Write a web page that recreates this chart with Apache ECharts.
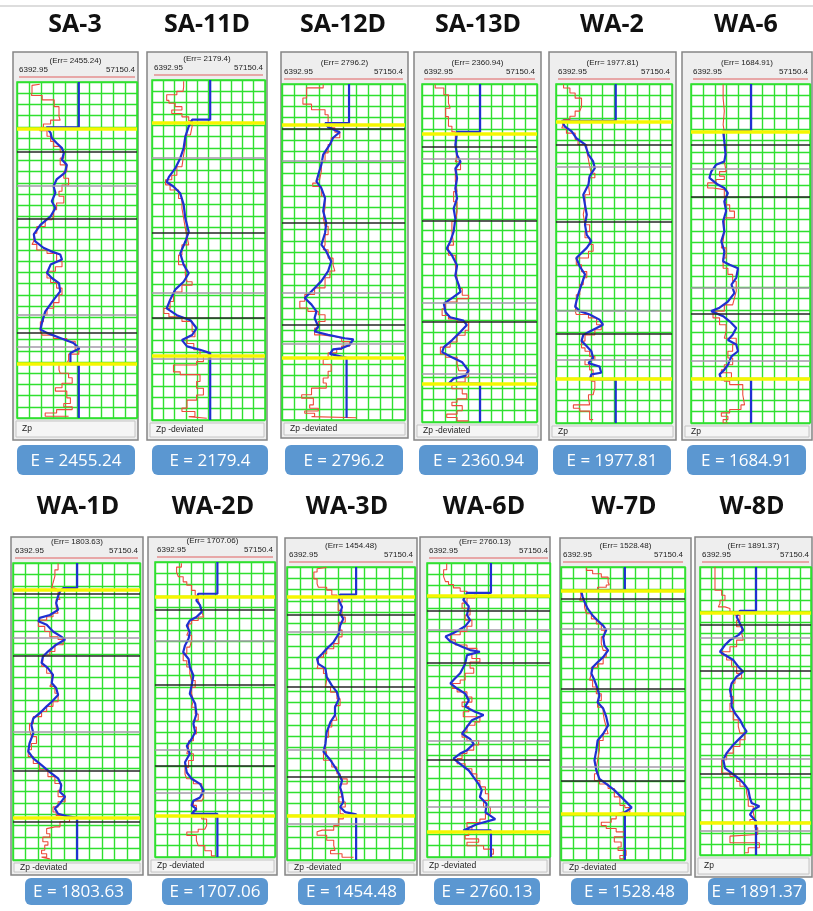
<!DOCTYPE html>
<html>
<head>
<meta charset="utf-8">
<script src="https://cdn.jsdelivr.net/npm/echarts@6/dist/echarts.min.js"></script>
<style>
  html, body { margin: 0; padding: 0; background: #fff; }
  #chart { width: 813px; height: 911px; }
</style>
</head>
<body>
<div id="chart"></div>
<script>
// well names, error values and footer labels
const wells = ['SA-3', 'SA-11D', 'SA-12D', 'SA-13D', 'WA-2', 'WA-6',
  'WA-1D', 'WA-2D', 'WA-3D', 'WA-6D', 'W-7D', 'W-8D'];
const errValues = [2455.24, 2179.4, 2796.2, 2360.94, 1977.81, 1684.91,
  1803.63, 1707.06, 1454.48, 2760.13, 1528.48, 1891.37];
const footLabels = ['Zp', 'Zp -deviated', 'Zp -deviated', 'Zp -deviated', 'Zp', 'Zp',
  'Zp -deviated', 'Zp -deviated', 'Zp -deviated', 'Zp -deviated', 'Zp -deviated', 'Zp'];
const zpLow = '6392.95';
const zpHigh = '57150.4';

// log curves: [zp (grid column units 0-10), depth (grid rows)]
const redSA3 = [[1.9,0.2],[1.25,0.3],[1.2,1.0],[2.1,1.2],[3.1,1.6],[3.5,2.2],[3.6,3.1],[2.8,3.4],[2.2,3.75],[1.9,4.1],[2.5,4.35],[2.8,4.85],[3.05,5.3],[3.6,5.75],[3.9,6.25],[3.6,6.8],[4.15,7.4],[3.9,8.0],[4.3,8.6],[3.75,9.2],[3.5,9.75],[3.9,10.2],[3.3,10.8],[3.05,11.4],[2.9,12.0],[2.35,12.3],[1.65,12.9],[1.4,13.5],[1.25,14.2],[1.65,14.5],[2.5,15.0],[3.3,15.3],[3.75,16.0],[3.2,16.5],[2.5,16.9],[2.8,17.5],[3.3,17.9],[3.75,18.4],[3.5,19.0],[3.05,19.7],[2.5,20.2],[2.2,20.8],[1.95,21.4],[2.1,22.3],[3.05,22.6],[4.15,22.9],[4.85,23.15],[5.15,23.9],[4.3,24.3],[4.15,24.8],[3.5,25.2],[3.6,25.7],[4.3,26.0],[4.6,26.4],[3.75,26.9],[3.2,27.3],[4.15,27.6],[4.45,28.2],[3.9,28.7],[4.6,29.0],[3.3,29.25],[2.35,29.55],[2.35,29.85],[4.3,29.85]];
const blueSA3 = [[5.15,0],[5.15,4.05],[2.45,4.05],[2.8,4.55],[2.9,5.0],[3.3,5.45],[3.75,5.9],[3.9,6.35],[3.75,6.95],[4.15,7.4],[4.0,8.1],[3.3,8.7],[3.05,9.3],[3.2,9.9],[2.9,10.65],[3.2,11.25],[2.8,12.0],[1.95,12.75],[1.4,13.6],[1.5,14.2],[2.2,14.8],[2.8,15.1],[3.6,15.4],[3.75,15.85],[2.8,16.3],[2.5,17.05],[2.9,17.5],[3.5,17.95],[3.6,18.7],[3.05,19.45],[2.35,20.5],[2.1,21.4],[1.95,22.1],[2.5,22.4],[3.6,22.85],[4.7,23.3],[5.2,23.8],[4.45,24.2],[4.45,25.2],[5.15,25.2],[5.15,30]];

const redSA11D = [[2.8,0.1],[2.75,0.6],[2.2,1.0],[1.3,1.3],[1.5,1.8],[2.05,2.05],[2.65,2.35],[1.75,2.65],[2.65,2.95],[3.25,3.25],[3.55,3.6],[3.4,4.1],[2.95,4.85],[2.8,5.75],[2.65,6.6],[2.2,7.65],[1.75,8.4],[1.2,8.8],[1.6,9.25],[2.35,9.7],[2.65,10.45],[2.8,11.3],[2.95,12.2],[3.1,13.1],[3.25,13.8],[2.65,14.55],[2.35,15.45],[2.95,16.3],[3.1,17.2],[3.55,17.8],[2.65,18.1],[1.9,18.7],[1.6,19.55],[1.05,20.15],[1.5,20.6],[2.65,20.9],[3.55,21.3],[3.8,22.2],[3.1,22.65],[3.7,23.25],[4.25,23.8],[4.55,24.4],[3.95,24.85],[1.9,25.15],[2.5,25.75],[4.25,26.0],[3.95,26.6],[4.55,27.2],[3.95,27.8],[3.1,28.25],[2.65,28.95],[3.8,29.25],[3.25,29.7],[4.85,29.85]];
const blueSA11D = [[5.15,0],[5.15,3.5],[3.55,3.5],[3.25,4.1],[2.95,5.0],[2.8,6.0],[2.5,6.9],[2.05,7.8],[1.5,8.55],[1.3,9.0],[1.9,9.4],[2.5,10.0],[2.8,11.0],[2.95,12.2],[3.25,13.4],[2.95,14.25],[2.5,15.3],[2.8,16.3],[3.25,17.05],[2.8,17.8],[2.05,18.5],[1.6,19.4],[1.3,20.15],[2.2,20.75],[3.4,21.2],[3.95,21.9],[3.55,22.5],[2.65,22.95],[3.1,23.5],[4.25,23.8],[5.15,24.1],[5.15,30]];

const redSA12D = [[3.35,0.05],[2.0,0.35],[1.7,1.25],[2.4,1.8],[3.5,2.3],[3.75,2.75],[3.9,3.5],[4.3,3.9],[4.7,4.3],[4.0,4.8],[3.75,5.4],[3.5,6.15],[3.2,6.9],[3.05,7.8],[2.8,8.55],[2.5,8.85],[3.2,9.15],[3.5,10.0],[3.35,11.05],[3.5,11.95],[3.75,12.7],[3.5,13.45],[3.35,14.35],[3.75,14.8],[4.15,15.55],[4.3,16.15],[3.9,16.7],[3.5,17.3],[2.65,18.2],[1.85,18.8],[1.45,19.4],[2.1,20.0],[2.95,20.3],[3.5,20.6],[2.95,21.2],[2.65,21.8],[3.2,22.4],[4.3,22.55],[4.85,22.7],[5.5,23.0],[4.85,23.4],[4.45,23.7],[3.75,24.0],[3.35,24.6],[4.0,25.05],[3.75,25.65],[3.35,26.25],[3.6,26.7],[2.4,27.15],[1.6,27.75],[2.55,28.05],[2.25,28.65],[2.95,28.95],[1.85,29.2],[2.65,29.4],[2.4,29.7],[6.05,29.8]];
const blueSA12D = [[5.45,0],[5.45,3.5],[3.5,3.5],[3.75,3.85],[4.7,4.3],[4.15,4.8],[3.9,5.4],[3.35,6.3],[3.2,7.2],[2.95,8.1],[2.8,8.7],[3.2,9.3],[3.5,10.2],[3.35,11.35],[3.6,12.4],[3.5,13.3],[3.2,14.35],[3.6,14.95],[4.0,15.85],[3.75,16.7],[3.2,17.6],[2.4,18.5],[1.85,19.1],[2.4,19.7],[2.8,20.3],[2.65,20.9],[2.95,21.65],[2.65,22.1],[3.75,22.4],[5.1,22.7],[5.8,22.8],[5.5,23.3],[4.85,23.6],[4.15,23.7],[3.9,24.1],[5.25,24.45],[5.25,29.8]];

const redSA13D = [[1.15,0.05],[1.9,0.35],[2.3,0.95],[2.45,1.7],[2.05,2.15],[2.3,2.9],[2.6,3.75],[2.9,4.25],[3.05,5.1],[2.9,6.3],[3.35,6.9],[2.9,7.6],[3.05,8.65],[2.75,9.55],[3.05,10.45],[2.9,11.35],[2.6,12.2],[2.75,13.1],[2.3,14.3],[2.9,15.2],[3.05,16.1],[3.2,17.25],[3.5,18.15],[4.05,18.75],[3.05,19.05],[2.05,19.35],[1.75,19.95],[2.3,20.55],[3.05,20.85],[4.05,21.15],[3.75,21.85],[3.05,22.3],[2.45,22.9],[1.6,23.35],[2.05,23.95],[3.05,24.25],[3.2,24.85],[4.05,25.45],[3.75,26.0],[3.05,26.45],[2.6,26.75],[3.5,27.05],[3.9,27.5],[3.05,27.95],[2.6,28.25],[3.5,28.55],[3.05,29.0],[2.15,29.3],[3.05,29.6],[4.05,29.9]];
const blueSA13D = [[5.05,0],[5.05,4.25],[3.05,4.25],[2.9,5.4],[3.05,6.3],[3.35,6.9],[2.9,7.5],[3.05,8.35],[2.9,9.25],[3.05,10.15],[2.75,11.05],[2.9,11.95],[2.75,13.1],[2.45,14.0],[2.15,14.6],[2.6,15.2],[3.05,16.1],[2.9,17.0],[3.2,17.85],[3.35,18.45],[2.75,18.9],[1.9,19.5],[2.05,20.25],[2.45,20.7],[3.6,21.0],[3.9,21.4],[3.35,22.0],[2.6,22.75],[1.9,23.35],[1.75,23.8],[2.6,24.25],[3.5,24.7],[4.05,25.45],[3.75,25.9],[2.75,26.15],[2.3,26.6],[5.05,26.6],[5.05,30]];

const redWA2 = [[0.65,0.05],[1.2,0.35],[1.65,0.8],[2.2,1.25],[2.05,2.0],[1.65,2.4],[1.2,2.85],[0.65,3.15],[0.5,3.45],[0.9,3.9],[1.65,4.35],[1.9,4.9],[2.65,5.35],[2.8,5.95],[2.9,6.7],[3.05,7.3],[3.35,7.9],[2.8,8.3],[2.9,8.9],[2.5,9.8],[2.35,10.7],[2.5,11.55],[2.9,12.45],[2.5,13.05],[2.9,13.6],[3.2,14.2],[2.8,14.8],[1.75,15.4],[2.2,16.0],[2.65,16.6],[2.35,17.15],[2.05,17.75],[1.75,18.65],[1.65,19.55],[1.75,20.1],[2.8,20.4],[3.5,20.7],[3.9,21.3],[3.35,21.75],[2.5,22.2],[2.2,22.75],[2.5,23.35],[2.9,23.65],[3.35,24.1],[2.5,24.4],[2.9,24.85],[3.2,25.3],[3.05,26.0],[3.35,26.3],[3.2,26.9],[2.8,27.5],[2.9,27.8],[1.5,28.4],[2.05,28.7],[2.9,28.95],[3.2,29.7]];
const blueWA2 = [[5.15,0],[5.15,3.25],[0.5,3.25],[0.75,3.75],[1.35,4.2],[1.75,4.8],[2.5,5.35],[2.8,6.25],[3.2,6.85],[3.35,7.45],[2.9,8.15],[2.8,8.9],[2.35,9.8],[2.5,10.7],[2.65,11.55],[2.5,12.45],[2.65,13.35],[3.05,13.9],[2.65,14.5],[1.75,15.4],[2.05,16.15],[2.5,16.85],[2.2,17.75],[1.9,18.65],[1.65,19.7],[2.05,20.1],[2.9,20.4],[3.75,20.85],[4.05,21.3],[3.5,21.6],[2.9,21.9],[2.35,22.2],[2.2,22.75],[2.65,23.2],[3.05,23.65],[3.2,24.25],[2.8,24.7],[3.75,25.0],[3.9,25.55],[3.05,25.7],[2.9,26.15],[5.15,26.15],[5.15,30]];

const redWA6 = [[2.7,0.05],[2.8,1.25],[2.7,2.4],[2.8,3.6],[2.8,4.25],[2.95,5.05],[2.8,5.95],[2.95,6.85],[2.4,7.75],[2.8,8.15],[2.1,8.45],[1.4,8.75],[1.85,9.2],[2.8,9.35],[2.95,10.1],[3.25,10.7],[3.65,11.25],[2.8,11.85],[2.7,13.05],[2.55,13.9],[2.95,14.5],[2.7,15.4],[3.1,16.3],[3.5,16.85],[3.8,17.45],[3.65,18.35],[3.5,18.95],[2.8,19.55],[1.85,20.1],[2.4,20.7],[2.95,21.3],[2.8,21.9],[3.8,22.5],[3.5,23.05],[3.1,23.65],[3.5,24.25],[2.8,24.85],[2.55,25.3],[3.4,25.55],[2.8,26.0],[3.25,26.3],[4.35,26.6],[4.5,27.5],[4.2,28.4],[3.25,28.8],[2.55,29.1],[3.1,29.4],[2.7,29.7],[3.1,30]];
const blueWA6 = [[5.05,0],[5.05,4.15],[2.7,4.15],[2.8,5.05],[2.9,6.25],[2.8,6.85],[2.1,7.15],[1.7,7.75],[1.55,8.3],[2.25,8.9],[2.8,9.2],[3.1,9.65],[2.8,10.4],[2.95,11.25],[2.7,12.15],[2.8,13.05],[2.55,13.9],[2.8,14.8],[2.7,15.7],[3.25,16.0],[3.95,16.3],[3.8,17.15],[3.4,17.75],[3.65,18.5],[3.1,19.25],[2.4,19.8],[1.7,20.1],[2.7,20.55],[3.25,21.0],[3.8,21.6],[3.5,22.2],[3.1,22.65],[3.8,23.05],[3.95,23.65],[3.4,24.1],[3.1,24.85],[2.8,25.3],[2.4,25.7],[2.55,26.15],[5.05,26.15],[5.05,30]];

const redWA1D = [[3.55,0.05],[3.3,0.6],[3.15,1.15],[3.05,1.75],[3.3,2.2],[3.55,2.35],[3.7,2.8],[3.4,3.2],[3.55,3.95],[3.15,4.4],[2.65,4.7],[2.0,5.0],[2.5,5.55],[2.9,6.0],[3.55,6.45],[3.95,6.7],[3.3,7.15],[2.9,7.75],[2.35,8.05],[2.25,8.6],[2.65,9.05],[3.05,9.65],[2.9,10.5],[3.3,10.8],[3.55,11.4],[3.15,12.15],[2.65,12.55],[2.25,13.0],[1.6,13.45],[1.3,14.05],[1.45,14.6],[1.85,15.2],[1.45,15.8],[1.2,16.35],[1.6,16.95],[2.1,17.55],[2.75,18.1],[3.3,18.7],[3.8,19.3],[3.55,19.9],[4.1,20.45],[3.55,20.9],[3.15,21.35],[3.4,21.8],[4.1,22.1],[4.45,22.35],[3.7,22.65],[3.3,23.1],[2.65,23.25],[2.9,23.7],[2.35,24.0],[2.75,24.4],[2.5,24.7],[2.25,25.15],[2.65,25.45],[2.25,25.75],[2.9,25.9]];
const blueWA1D = [[5.05,0],[5.05,2.2],[3.95,2.2],[3.7,2.5],[3.55,2.9],[3.4,3.5],[3.55,4.1],[2.9,4.55],[2.1,4.8],[2.0,5.1],[2.65,5.4],[3.15,6.0],[3.8,6.45],[4.1,6.7],[3.4,7.15],[2.75,7.75],[2.35,8.2],[2.25,8.75],[2.75,9.2],[3.15,9.8],[3.05,10.5],[3.4,10.95],[3.55,11.55],[3.05,12.15],[2.65,12.55],[2.1,13.15],[1.6,13.6],[1.45,14.2],[1.6,14.9],[1.3,15.8],[1.2,16.5],[1.6,17.1],[2.25,17.7],[2.9,18.3],[3.55,18.85],[3.8,19.45],[3.7,20.05],[4.1,20.45],[3.7,21.05],[3.3,21.5],[3.55,21.95],[4.2,22.15],[5.05,22.3],[5.05,26]];

const redWA2D = [[2.2,0.1],[1.8,0.45],[1.95,0.9],[2.35,1.3],[2.65,1.75],[3.05,2.05],[3.35,2.5],[3.6,2.95],[3.75,3.4],[3.9,3.8],[4.05,4.4],[3.6,4.85],[3.05,5.15],[2.8,5.45],[2.65,6.05],[3.05,6.45],[2.9,6.9],[2.65,7.5],[2.35,8.1],[2.65,8.7],[2.9,9.25],[3.05,9.85],[3.35,10.45],[3.05,11.05],[3.2,11.6],[3.05,12.2],[3.35,12.8],[3.6,13.4],[3.2,13.95],[3.45,14.55],[3.2,15.15],[2.8,15.75],[2.65,16.3],[3.2,16.9],[2.8,17.5],[2.5,18.1],[2.65,18.7],[3.2,19.1],[3.9,19.55],[4.05,20.15],[3.9,20.75],[3.2,21.05],[3.45,21.45],[3.2,21.9],[3.9,22.35],[4.3,22.65],[4.15,23.25],[3.6,23.55],[2.65,23.8],[3.45,24.1],[3.6,24.55],[4.15,25.0],[4.7,25.45],[5.0,25.9]];
const blueWA2D = [[5.2,0],[5.2,2.8],[3.6,2.8],[3.45,3.4],[3.75,3.8],[3.9,4.4],[3.45,4.85],[2.9,5.15],[2.65,5.6],[2.9,6.2],[2.8,6.75],[2.5,7.35],[2.35,7.95],[2.8,8.55],[2.9,9.25],[3.2,10.0],[3.05,10.9],[2.9,11.6],[3.35,12.5],[3.45,13.4],[3.2,14.25],[3.35,15.0],[3.05,15.6],[2.65,16.2],[2.9,16.9],[2.5,17.65],[2.65,18.55],[3.05,19.1],[3.75,19.55],[4.05,20.15],[3.75,20.75],[3.2,21.05],[3.05,21.45],[3.45,21.75],[3.05,22.2],[5.2,22.2],[5.2,26]];

const redWA3D = [[3.1,0.05],[2.35,0.15],[2.1,0.45],[2.35,1.05],[2.45,1.5],[3.1,1.8],[3.5,2.05],[3.9,2.5],[4.3,2.7],[4.0,3.1],[4.3,3.85],[4.55,4.45],[4.05,4.9],[4.3,5.6],[4.05,6.2],[3.65,6.8],[3.1,7.25],[2.85,7.7],[2.45,8.0],[2.35,8.6],[2.85,9.0],[3.1,9.45],[3.0,10.05],[3.4,10.65],[3.9,11.1],[4.15,11.7],[3.75,12.3],[3.9,13.0],[3.5,13.6],[3.25,14.2],[3.0,15.1],[3.1,16.0],[2.85,16.55],[3.5,17.15],[3.9,17.75],[4.15,18.35],[4.7,18.8],[4.15,19.25],[4.3,19.8],[4.05,20.4],[4.55,20.85],[4.15,21.3],[4.4,21.9],[4.05,22.35],[3.65,22.95],[2.75,23.35],[2.35,23.5],[3.1,23.8],[3.65,24.25],[3.75,24.7],[3.4,25.15],[4.3,25.45],[5.2,25.75]];
const blueWA3D = [[5.4,0],[5.4,2.45],[4.15,2.45],[4.05,2.95],[4.3,3.55],[4.15,4.15],[4.4,4.6],[4.15,5.2],[4.05,5.9],[3.65,6.65],[3.1,7.25],[2.75,7.7],[2.35,8.15],[2.45,8.6],[3.0,9.0],[3.1,9.75],[3.5,10.5],[3.9,11.1],[4.05,11.7],[3.75,12.45],[3.75,13.15],[3.4,13.75],[3.1,14.65],[3.0,15.7],[2.85,16.4],[3.4,17.15],[3.75,17.75],[4.05,18.35],[4.3,18.95],[4.15,19.55],[4.3,20.1],[4.4,20.85],[4.15,21.3],[4.55,21.75],[5.4,21.95],[5.4,26]];

const redWA6D = [[1.6,0.05],[1.35,0.6],[1.5,1.2],[1.75,1.65],[2.15,1.9],[2.7,2.2],[3.25,2.5],[3.9,2.7],[3.25,3.1],[2.85,3.55],[3.5,4.0],[3.1,4.6],[3.65,5.05],[3.25,5.6],[2.7,6.05],[1.9,6.35],[2.3,6.8],[3.25,7.25],[4.05,7.55],[3.65,8.0],[4.3,8.45],[3.5,8.75],[3.8,9.3],[3.1,9.75],[2.7,10.35],[2.05,10.65],[2.45,11.1],[3.25,11.4],[3.65,11.85],[2.85,12.3],[3.4,12.7],[2.95,13.15],[4.3,13.6],[3.9,14.05],[3.25,14.35],[2.85,14.95],[3.25,15.4],[4.2,15.7],[3.8,16.1],[3.25,16.55],[2.85,16.85],[2.45,17.3],[3.1,17.75],[3.65,18.2],[4.05,18.65],[4.3,19.25],[4.75,19.8],[5.0,20.4],[4.6,21.0],[5.15,21.6],[4.75,22.2],[4.3,22.65],[3.25,22.95],[3.65,23.35],[3.4,23.65],[3.1,24.1],[4.2,24.4],[3.25,24.7],[4.6,25.0],[5.4,25.3],[5.15,25.75],[5.4,26]];
const blueWA6D = [[5.2,0],[5.2,2.65],[3.25,2.65],[2.95,3.25],[3.4,3.85],[3.25,4.6],[3.5,5.05],[3.1,5.6],[2.15,6.2],[1.5,6.5],[1.9,6.95],[2.85,7.4],[3.5,7.7],[4.3,7.85],[3.25,8.15],[3.1,8.9],[2.7,9.75],[2.15,10.35],[1.9,10.65],[2.45,11.1],[3.1,11.55],[3.4,12.15],[3.1,12.7],[3.9,13.15],[4.6,13.45],[3.65,13.9],[3.25,14.5],[2.85,15.1],[3.5,15.55],[3.8,16.0],[3.25,16.55],[2.7,16.85],[2.15,17.3],[2.85,17.9],[3.4,18.35],[3.8,18.95],[4.2,19.55],[4.45,20.1],[4.3,20.7],[4.85,21.3],[4.75,22.05],[5.55,22.65],[4.05,23.1],[2.95,23.65],[5.2,23.65],[5.2,26]];

const redW7D = [[2.05,0.05],[2.55,0.3],[3.25,0.6],[3.8,0.9],[3.9,1.35],[3.65,1.6],[2.95,1.8],[2.3,2.05],[1.6,2.15],[1.5,2.65],[1.9,2.95],[2.05,3.55],[2.45,4.15],[2.85,4.6],[3.25,5.05],[3.5,5.6],[3.25,6.2],[3.4,6.8],[3.65,7.4],[3.4,8.0],[2.95,8.6],[2.45,8.9],[2.3,9.45],[2.55,10.05],[2.85,10.65],[3.25,11.25],[2.95,11.85],[3.4,12.45],[3.5,13.0],[3.65,13.6],[3.8,14.2],[3.4,14.8],[3.1,15.4],[2.95,16.25],[2.85,17.15],[2.95,17.75],[2.7,18.35],[3.1,18.95],[3.8,19.25],[4.3,19.65],[4.75,20.4],[5.15,21.15],[5.55,21.35],[5.0,21.75],[4.45,21.9],[4.05,22.35],[3.25,22.65],[3.65,22.95],[4.45,23.2],[5.15,23.5],[4.3,23.95],[4.85,24.4],[4.6,24.85],[5.25,25.15],[4.75,25.6],[5.15,25.9]];
const blueW7D = [[5.15,0],[5.15,2.05],[1.6,2.05],[1.75,2.65],[1.9,3.1],[2.15,3.7],[2.55,4.3],[2.95,4.75],[3.4,5.2],[3.65,5.6],[3.4,6.2],[3.5,6.95],[3.8,7.4],[3.4,8.0],[2.95,8.45],[2.55,8.9],[2.45,9.45],[2.7,10.05],[2.95,10.8],[3.1,11.4],[2.95,12.0],[3.4,12.55],[3.65,13.3],[3.8,14.05],[3.4,14.8],[2.95,15.4],[2.85,16.25],[2.7,17.15],[2.85,18.05],[3.1,18.8],[3.65,19.25],[4.3,19.8],[4.85,20.4],[5.4,21.0],[5.7,21.35],[5.15,21.75],[5.15,26]];

const redW8D = [[1.35,0],[1.35,1.8],[1.95,2.1],[2.25,2.55],[1.8,3.0],[1.65,3.3],[2.25,3.6],[2.7,3.75],[3.15,4.05],[3.6,4.35],[3.3,4.8],[3.75,5.4],[3.9,6.0],[3.3,6.6],[2.7,7.2],[1.95,7.65],[2.4,7.95],[2.85,8.4],[3.3,9.0],[3.75,9.6],[3.15,10.05],[2.85,10.5],[2.7,11.1],[3.0,11.7],[2.7,12.3],[3.0,13.05],[3.45,13.8],[3.6,14.4],[4.05,15.0],[3.6,15.6],[3.0,16.2],[2.4,16.8],[1.95,17.4],[1.95,18.15],[2.7,18.6],[3.3,18.9],[3.6,19.35],[4.2,19.8],[4.35,20.4],[4.35,21.0],[4.8,21.6],[4.95,22.2],[4.5,22.8],[4.95,23.1],[5.2,23.55],[5.05,24.15],[2.7,24.3],[2.7,24.6],[5.35,24.9],[4.35,25.35],[4.05,25.8]];
const blueW8D = [[5.05,0],[5.05,3.95],[3.6,3.95],[3.3,4.5],[3.6,5.1],[3.9,5.7],[3.45,6.15],[2.7,6.6],[2.25,7.05],[1.8,7.65],[2.25,7.95],[3.0,8.4],[3.45,9.0],[3.9,9.45],[3.3,9.9],[2.85,10.5],[2.7,11.1],[2.85,11.85],[2.85,12.6],[3.15,13.2],[3.6,13.8],[3.9,14.4],[4.2,14.85],[3.6,15.45],[3.0,16.05],[2.4,16.8],[2.1,17.4],[2.25,18.15],[2.85,18.6],[3.45,19.05],[3.9,19.5],[4.35,20.1],[4.5,20.85],[4.65,21.3],[5.35,21.6],[4.8,21.9],[4.5,22.35],[5.05,22.95],[5.05,26]];

const redCurves = [redSA3, redSA11D, redSA12D, redSA13D, redWA2, redWA6,
  redWA1D, redWA2D, redWA3D, redWA6D, redW7D, redW8D];
const blueCurves = [blueSA3, blueSA11D, blueSA12D, blueSA13D, blueWA2, blueWA6,
  blueWA1D, blueWA2D, blueWA3D, blueWA6D, blueW7D, blueW8D];

// horizon picks (depth in grid rows)
const yellowTops = [[4.17,25.2],[3.75,24.3],[3.65,24.45],[4.45,26.6],[3.35,26.1],[4.2,26.1],
  [2.35,22.3],[3.05,22.35],[2.6,22.05],[2.9,23.8],[2.1,21.9],[4.15,23.05]];
const blackTops = [[6.2,12.2,22.4],[13.5,21.0],[4.0,12.4,21.5],[5.6,12.1,21.1],[5.35,12.2,22.1],[5.35,9.95,20.3],
  [2.65,8.15,18.2,22.65],[4.25,10.8,18.0],[4.2,10.65,18.6],[4.2,8.8,17.4],[2.8,10.8,18.95],[5.25,9.35,18.7]];
const grayTops = [[9.3,20.8,23.6],[6.9,18.8,24.6],[6.85,18.65,23.2],[6.6,19.4,25.7],[7.3,20.05,24.4],[7.5,18.0,24.5],
  [6.5,14.75],[6.9,16.55,20.3],[5.75,16.2,22.8],[5.9,15.7,21.6],[5.45,17.7],[6.35,17.35,23.85]];

// page layout (pixels): panel box, plot area, button, title centre, row count
const layout = [
  { box: [13, 52, 138, 440], plot: [17, 82, 137, 418], btn: [17, 445, 135, 475], title: [75, 25], rows: 30 },
  { box: [147, 52, 267, 440], plot: [152, 80, 265, 420], btn: [152, 445, 268, 475], title: [207, 25], rows: 30 },
  { box: [281, 52, 408, 438], plot: [282, 84, 405, 420], btn: [285, 445, 403, 475], title: [343, 25], rows: 30 },
  { box: [414, 52, 541, 440], plot: [422, 84, 537, 422], btn: [419, 445, 538, 475], title: [478, 25], rows: 30 },
  { box: [549, 52, 676, 440], plot: [556, 84, 672, 423], btn: [553, 445, 671, 475], title: [612, 25], rows: 30 },
  { box: [682, 52, 812, 440], plot: [691, 84, 810, 423], btn: [687, 445, 806, 475], title: [746, 25], rows: 30 },
  { box: [11, 537, 143, 875], plot: [13, 563, 140, 860], btn: [25, 878, 132, 905], title: [78, 507], rows: 26 },
  { box: [148, 537, 277, 875], plot: [155, 562, 275, 857], btn: [162, 878, 268, 905], title: [213, 507], rows: 26 },
  { box: [285, 538, 417, 875], plot: [287, 567, 415, 860], btn: [298, 878, 405, 905], title: [347, 507], rows: 26 },
  { box: [420, 537, 550, 875], plot: [427, 563, 550, 857], btn: [434, 878, 540, 905], title: [484, 507], rows: 26 },
  { box: [560, 538, 691, 875], plot: [561, 567, 685, 860], btn: [571, 878, 688, 905], title: [624, 507], rows: 26 },
  { box: [695, 537, 812, 877], plot: [700, 567, 811, 855], btn: [708, 878, 806, 905], title: [752, 507], rows: 26 }
];

const GREEN = '#2fe02f';
const grids = [], xAxes = [], yAxes = [], series = [];
const graphics = [
  { type: 'line', shape: { x1: 0, y1: 6, x2: 813, y2: 6 }, style: { stroke: '#dddddd', lineWidth: 2 } }
];

layout.forEach((p, i) => {
  const [pl, pt, pr, pb] = p.plot;
  const [bl, bt, br, bb] = p.box;
  grids.push({
    left: pl, top: pt, width: pr - pl, height: pb - pt,
    show: true, backgroundColor: '#fff', borderColor: GREEN, borderWidth: 1.5
  });
  const gridAxis = {
    gridIndex: i, type: 'value', interval: 1,
    axisLabel: { show: false }, axisTick: { show: false }, axisLine: { show: false },
    splitLine: { show: true, lineStyle: { color: GREEN, width: 1.4 } }
  };
  xAxes.push(Object.assign({}, gridAxis, { min: 0, max: 10 }));
  yAxes.push(Object.assign({}, gridAxis, { min: 0, max: p.rows, inverse: true }));

  const lines = [];
  grayTops[i].forEach(v => lines.push({ yAxis: v, lineStyle: { color: '#a39aa8', width: 1.6, type: 'solid' } }));
  blackTops[i].forEach(v => lines.push({ yAxis: v, lineStyle: { color: '#262626', width: 1.6, type: 'solid' } }));
  yellowTops[i].forEach(v => lines.push({ yAxis: v, lineStyle: { color: '#f6f600', width: 3.5, type: 'solid' } }));

  series.push({
    type: 'line', xAxisIndex: i, yAxisIndex: i, data: [[0, 0]], showSymbol: false, z: 1,
    lineStyle: { opacity: 0 }, silent: true,
    markLine: { silent: true, symbol: 'none', label: { show: false }, animation: false, data: lines }
  });
  series.push({
    type: 'line', xAxisIndex: i, yAxisIndex: i, data: redCurves[i], step: 'start',
    showSymbol: false, z: 3, lineStyle: { color: '#ee4b3c', width: 1.1 }
  });
  series.push({
    type: 'line', xAxisIndex: i, yAxisIndex: i, data: blueCurves[i],
    showSymbol: false, z: 4, lineStyle: { color: '#1f2fd2', width: 2.2 }
  });

  // panel frame, header and footer
  graphics.push({
    type: 'rect', z: -1, shape: { x: bl, y: bt, width: br - bl, height: bb - bt },
    style: { fill: '#eeeeee', stroke: '#858585', lineWidth: 1.5 }
  });
  graphics.push({
    type: 'text', x: (bl + br) / 2, y: pt - 21,
    style: { text: '(Err= ' + errValues[i] + ')', font: '8px "Liberation Sans"', fill: '#222', textAlign: 'center', textVerticalAlign: 'middle' }
  });
  graphics.push({
    type: 'text', x: pl + 2, y: pt - 12,
    style: { text: zpLow, font: '8px "Liberation Sans"', fill: '#222', textAlign: 'left', textVerticalAlign: 'middle' }
  });
  graphics.push({
    type: 'text', x: pr - 2, y: pt - 12,
    style: { text: zpHigh, font: '8px "Liberation Sans"', fill: '#222', textAlign: 'right', textVerticalAlign: 'middle' }
  });
  graphics.push({
    type: 'line', shape: { x1: pl + 2, y1: pt - 5, x2: pr - 2, y2: pt - 5 },
    style: { stroke: '#e06060', lineWidth: 1 }
  });
  graphics.push({
    type: 'rect', shape: { x: bl + 3, y: pb + 3, width: br - bl - 6, height: bb - pb - 6 },
    style: { fill: '#f5f5f5', stroke: '#c4c4c4', lineWidth: 1 }
  });
  graphics.push({
    type: 'text', x: bl + 9, y: (pb + bb) / 2,
    style: { text: footLabels[i], font: '8.5px "Liberation Sans"', fill: '#222', textAlign: 'left', textVerticalAlign: 'middle' }
  });
  // title
  graphics.push({
    type: 'text', x: p.title[0], y: p.title[1],
    style: { text: wells[i], font: 'bold 25px "Open Sans"', fill: '#111', textAlign: 'center', textVerticalAlign: 'middle' }
  });
  // error button
  const [xl, xt, xr, xb] = p.btn;
  graphics.push({
    type: 'rect', shape: { x: xl, y: xt, width: xr - xl, height: xb - xt, r: 6 },
    style: { fill: '#5b97d1' }
  });
  graphics.push({
    type: 'text', x: (xl + xr) / 2, y: (xt + xb) / 2 + 1,
    style: { text: 'E = ' + errValues[i], font: '17px "Open Sans"', fill: '#fff', textAlign: 'center', textVerticalAlign: 'middle' }
  });
});

const chart = echarts.init(document.getElementById('chart'), null, { renderer: 'canvas' });
chart.setOption({
  animation: false,
  backgroundColor: '#fff',
  grid: grids,
  xAxis: xAxes,
  yAxis: yAxes,
  series: series,
  graphic: { elements: graphics }
});
</script>
</body>
</html>
